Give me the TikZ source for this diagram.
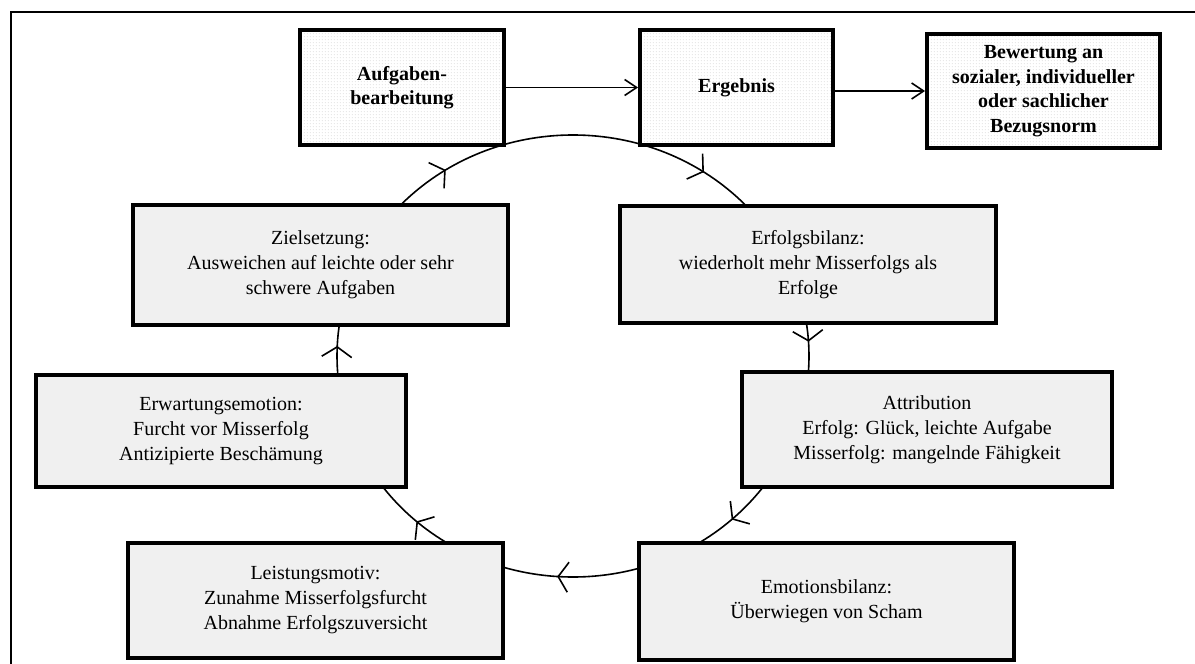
\documentclass[tikz,border=0pt]{standalone}
\usepackage{fontspec}
\setmainfont{Liberation Serif}
\usetikzlibrary{arrows.meta,decorations.markings,patterns.meta}

\definecolor{boxgray}{HTML}{F0F0F0}

% fine dot raster for the header boxes
\tikzdeclarepattern{
  name=finedots,
  type=uncolored,
  bounding box={(0pt,0pt) and (1.6pt,1.6pt)},
  tile size={(1.6pt,1.6pt)},
  code={\fill (0.8pt,0.8pt) circle [radius=0.26pt];}
}

\begin{document}
\begin{tikzpicture}[x=0.5pt,y=-0.5pt,
  font=\fontsize{10}{12.5}\selectfont,
  topbox/.style={draw, line width=1.9pt, preaction={fill=white},
    pattern=finedots, pattern color=black!25, align=center,
    font=\fontsize{10}{12.3}\selectfont\bfseries, inner sep=0pt},
  cycbox/.style={draw, line width=1.7pt, fill=boxgray, align=center, inner sep=0pt},
  flow/.style={line width=0.8pt, -{Straight Barb[length=6pt,width=8pt]}},
  cyc/.style={line width=0.8pt, postaction={decorate},
    decoration={markings,
      mark=at position 0.130 with {\arrow{Straight Barb[length=5pt,width=15pt]}},
      mark=at position 0.261 with {\arrow{Straight Barb[length=5pt,width=15pt]}},
      mark=at position 0.368 with {\arrow{Straight Barb[length=5pt,width=15pt]}},
      mark=at position 0.507 with {\arrow{Straight Barb[length=5pt,width=15pt]}},
      mark=at position 0.657 with {\arrow{Straight Barb[length=5pt,width=15pt]}},
      mark=at position 0.846 with {\arrow{Straight Barb[length=5pt,width=15pt]}},
      mark=at position 0.990 with {\arrow{Straight Barb[length=5pt,width=15pt]}}}}
]
\useasboundingbox (0,0) rectangle (1195,664);

% outer frame (only top and left edges lie inside the page)
\draw[line width=1pt] (11,700) -- (11,12) -- (1260,12);

% the cycle
\coordinate (mid) at (573,356);
\draw[cyc] (mid) ellipse [x radius=236, y radius=221];

% header row
\node[topbox, minimum width=102pt, minimum height=57.5pt] (aufg) at (402,87.5)
  {Aufgaben-\\bearbeitung};
\node[topbox, minimum width=96.5pt, minimum height=57.5pt] (erg) at (736.5,87.5)
  {Ergebnis};
\node[topbox, minimum width=116.5pt, minimum height=57pt] (bew) at (1043.5,91)
  {Bewertung an\\sozialer, individueller\\oder sachlicher\\Bezugsnorm};

\draw[flow] (aufg.east) -- (aufg.east -| erg.west);
\draw[flow] (bew.west -| erg.east) -- (bew.west);

% boxes on the cycle
\node[cycbox, minimum width=187.5pt, minimum height=60pt] (ziel) at (320.5,265)
  {Zielsetzung:\\Ausweichen auf leichte oder sehr\\schwere Aufgaben};
\node[cycbox, minimum width=188pt, minimum height=58.5pt] (erfb) at (808,264.5)
  {Erfolgsbilanz:\\wiederholt mehr Misserfolgs als\\Erfolge};
\node[cycbox, minimum width=185pt, minimum height=56pt] (erw) at (221,431)
  {Erwartungsemotion:\\Furcht vor Misserfolg\\Antizipierte Beschämung};
\node[cycbox, minimum width=185pt, minimum height=57.5pt] (attr) at (927,429.5)
  {Attribution\\Erfolg: Glück, leichte Aufgabe\\Misserfolg: mangelnde Fähigkeit};
\node[cycbox, minimum width=187.5pt, minimum height=57.5pt] (leis) at (315.5,600.5)
  {Leistungsmotiv:\\Zunahme Misserfolgsfurcht\\Abnahme Erfolgszuversicht};
\node[cycbox, minimum width=187.5pt, minimum height=58.5pt] (emo) at (826.5,601.5)
  {Emotionsbilanz:\\Überwiegen von Scham};
\end{tikzpicture}
\end{document}
